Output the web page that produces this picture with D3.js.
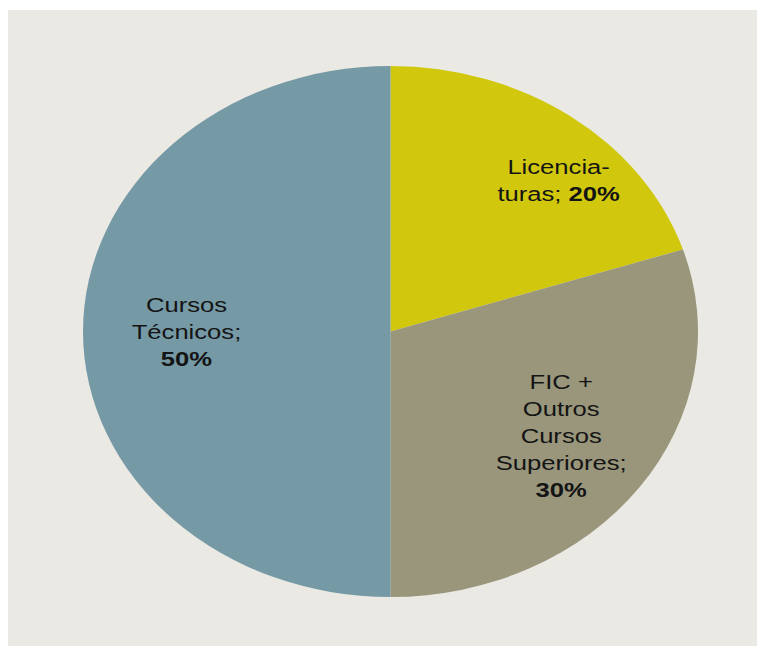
<!DOCTYPE html>
<html>
<head>
<meta charset="utf-8">
<script src="https://cdn.jsdelivr.net/npm/d3@7"></script>
<style>
  html, body { margin: 0; padding: 0; background: #ffffff; }
  svg { display: block; }
</style>
</head>
<body>
<script>
// Data
const categories = ["Licenciaturas", "FIC + Outros Cursos Superiores", "Cursos Técnicos"];
const values = [20, 30, 50];
const labelLines = [["Licencia-", "turas; "], ["FIC +", "Outros", "Cursos", "Superiores;"], ["Cursos", "Técnicos;"]];
const percentLabels = ["20%", "30%", "50%"];
const colors = ["#d1c80e", "#99967c", "#7599a5"];

const W = 757, H = 646;
const svg = d3.select("body").append("svg").attr("width", W).attr("height", H);

// background panel
svg.append("rect").attr("x", 8).attr("y", 10).attr("width", W - 8).attr("height", H - 10).attr("fill", "#eae9e4");

const cx = 390.5, cy = 331.5, rx = 307.5, ry = 265.5;
const pie = d3.pie().sort(null).value(d => d)(values);
const arc = d3.arc().innerRadius(0).outerRadius(ry);

const g = svg.append("g").attr("transform", `translate(${cx},${cy}) scale(${rx / ry},1)`);
g.selectAll("path").data(pie).join("path")
  .attr("d", arc)
  .attr("fill", (d, i) => colors[i]);

// labels
const lh = 27;
const f = 0.67;
const extraDx = [47, 4, 2];
const extraDy = [-8, -1, 0];
const sx = 1.22;
const fontFam = "Arial, 'Liberation Sans', Helvetica, sans-serif";
pie.forEach((d, i) => {
  const a = (d.startAngle + d.endAngle) / 2;
  const lx = cx + Math.sin(a) * rx * f + extraDx[i];
  const ly = cy - Math.cos(a) * ry * f + extraDy[i];
  const lines = labelLines[i].slice();
  let nLines = i === 0 ? lines.length : lines.length + 1;
  const t = svg.append("text")
    .attr("transform", `translate(${lx},0) scale(${sx},1)`)
    .attr("text-anchor", "middle")
    .attr("font-family", fontFam)
    .attr("font-size", 21)
    .attr("fill", "#141414");
  const y0 = ly - (nLines - 1) * lh / 2 + 7.5;
  lines.forEach((ln, k) => {
    t.append("tspan").attr("x", 0).attr("y", y0 + k * lh).text(ln);
    if (i === 0 && k === lines.length - 1) {
      t.append("tspan").attr("font-weight", "bold").text(percentLabels[i]);
    }
  });
  if (i !== 0) {
    t.append("tspan").attr("x", 0).attr("y", y0 + lines.length * lh)
      .attr("font-weight", "bold").text(percentLabels[i]);
  }
});
</script>
</body>
</html>
